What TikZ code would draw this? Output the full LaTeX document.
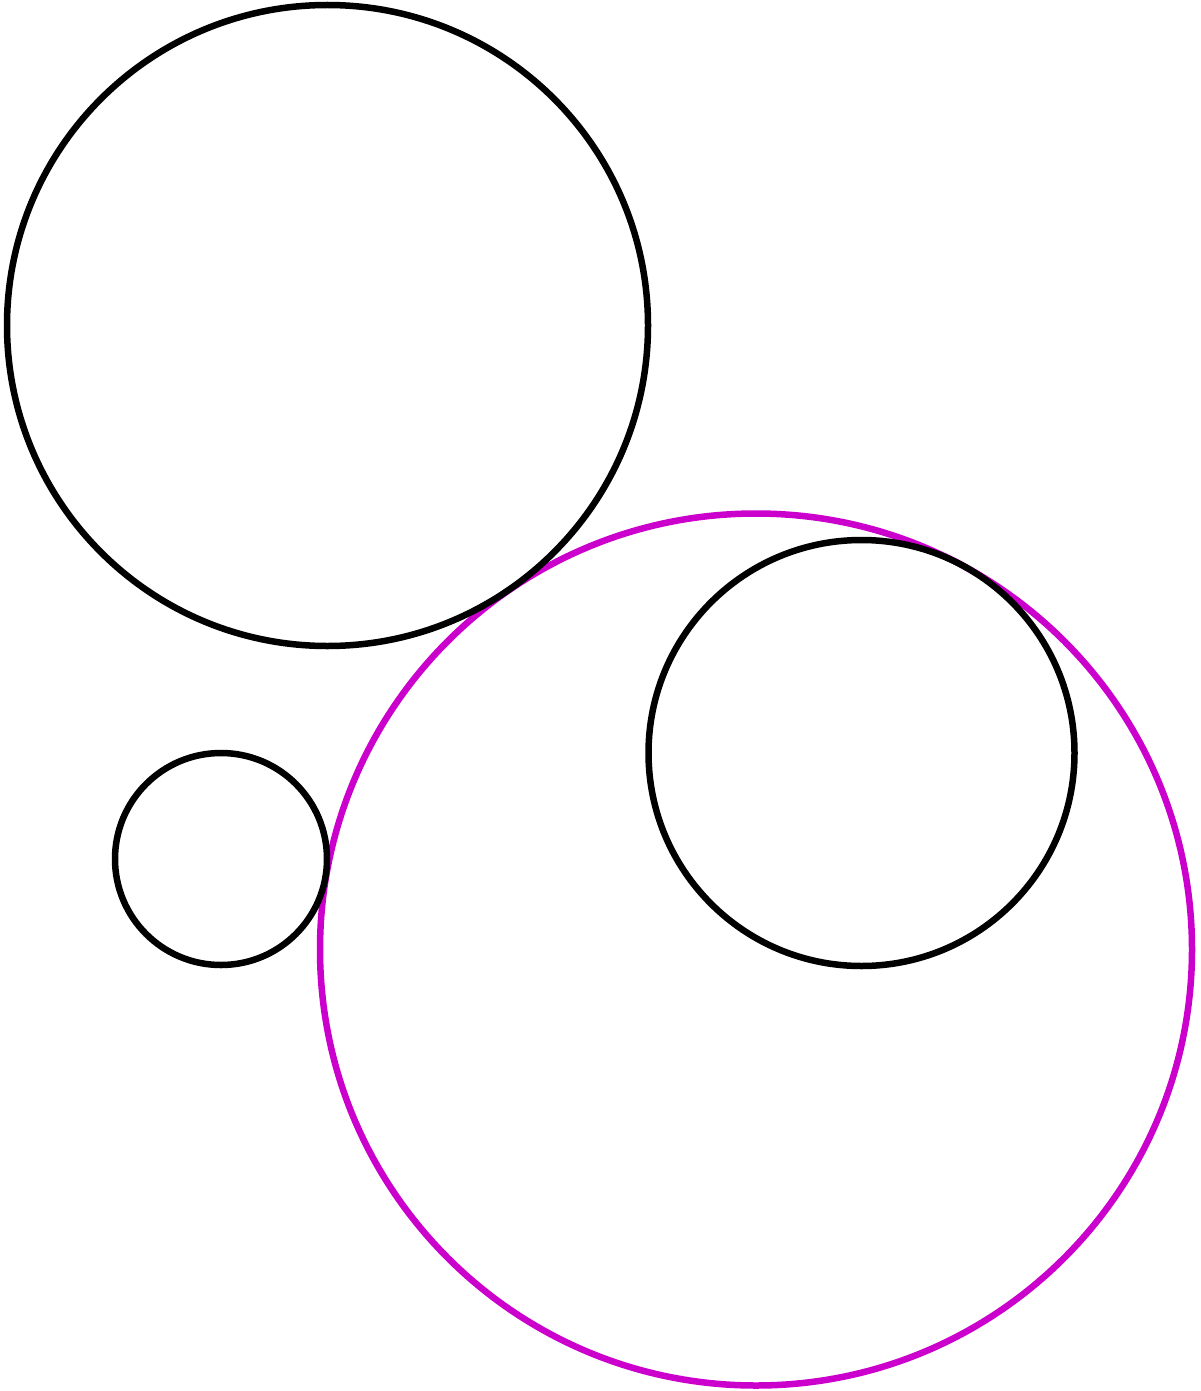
\documentclass[tikz,border=0pt]{standalone}
\usepackage{tikz}
\definecolor{mag}{HTML}{CC00CC}
\tikzset{given/.style={draw=black,line width=6.5pt},
         sol/.style={draw=mag,line width=6.5pt}}
\begin{document}
\begin{tikzpicture}[x=1pt,y=-1pt]
\useasboundingbox (0,0) rectangle (1200,1391);
\fill[white] (0,0) rectangle (1200,1391);
\draw[sol] (756,949.5) circle[radius=436];
\draw[given] (327.5,325.5) circle[radius=320.5];
\draw[given] (221,859) circle[radius=106];
\draw[given] (861.5,753) circle[radius=213];
\end{tikzpicture}
\end{document}
